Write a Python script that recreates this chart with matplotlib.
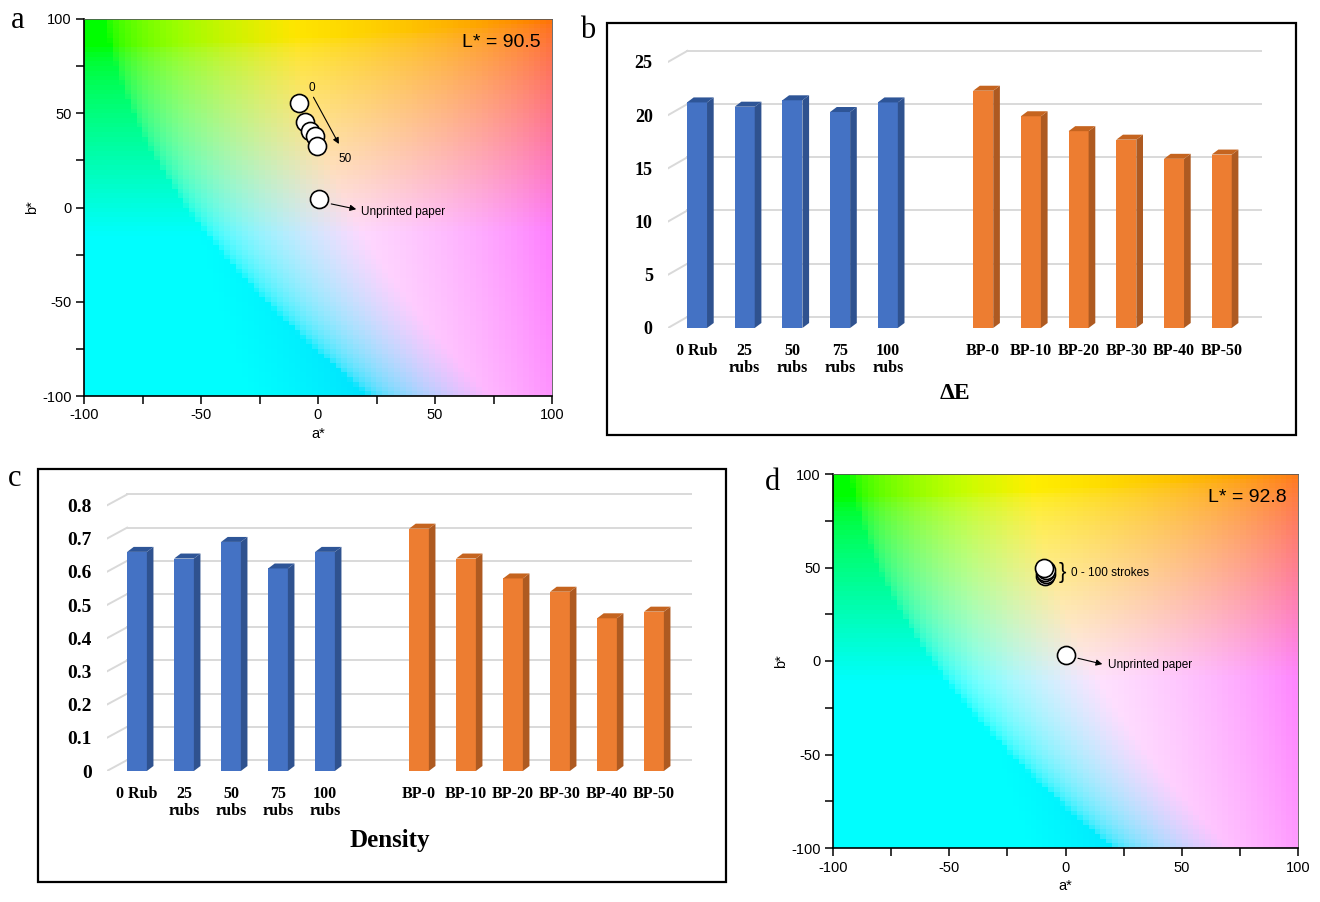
import numpy as np
import matplotlib
matplotlib.use("Agg")
import matplotlib.pyplot as plt
from matplotlib.patches import Polygon, Rectangle

plt.rcParams["axes.unicode_minus"] = False

# ---- data ----
# panel a: CIELab of rubbed samples (0 -> 50) and unprinted paper, L* = 90.5
a_rub_a = [-8.2, -5.4, -3.6, -1.3, -0.3]
b_rub_a = [55.4, 45.1, 40.4, 37.7, 32.4]
paper_a = (0.3, 4.4)
L_a = 90.5

# panel d: 0 - 100 strokes, L* = 92.8
a_rub_d = [-9.0, -8.6, -9.0, -8.6, -9.2]
b_rub_d = [45.5, 46.5, 47.5, 48.5, 49.5]
paper_d = (0.2, 3.2)
L_d = 92.8

# panels b / c: delta E and density
rub_labels = ["0 Rub", "25\nrubs", "50\nrubs", "75\nrubs", "100\nrubs"]
bp_labels = ["BP-0", "BP-10", "BP-20", "BP-30", "BP-40", "BP-50"]
dE_rub = [21.2, 20.8, 21.4, 20.3, 21.2]
dE_bp = [22.3, 19.9, 18.5, 17.7, 15.9, 16.3]
dens_rub = [0.66, 0.64, 0.69, 0.61, 0.66]
dens_bp = [0.73, 0.64, 0.58, 0.54, 0.46, 0.48]

W, H = 1320, 902
SERIF = "Liberation Serif"
SANS = "Liberation Sans"


def px_rect(x0, y0, x1, y1):
    return [x0 / W, 1 - y1 / H, (x1 - x0) / W, (y1 - y0) / H]


def lab_to_rgb(L, a, b):
    fy = (L + 16) / 116
    fx = fy + a / 500
    fz = fy - b / 200

    def finv(t):
        d = 6 / 29
        return np.where(t > d, t ** 3, 3 * d * d * (t - 4 / 29))

    X = 0.95047 * finv(fx)
    Y = 1.0 * finv(fy) * np.ones_like(a)
    Z = 1.08883 * finv(fz)
    r = 3.2406 * X - 1.5372 * Y - 0.4986 * Z
    g = -0.9689 * X + 1.8758 * Y + 0.0415 * Z
    bb = 0.0557 * X - 0.2040 * Y + 1.0570 * Z
    rgb = np.stack([r, g, bb], axis=-1)
    rgb = np.clip(rgb, 0, 1)
    rgb = np.where(rgb <= 0.0031308, 12.92 * rgb, 1.055 * rgb ** (1 / 2.4) - 0.055)
    return np.clip(rgb, 0, 1)


def lab_panel(rect, L, letter, letter_pos):
    ax = fig.add_axes(px_rect(*rect))
    c = np.arange(-98.75, 100, 2.5)
    A, B = np.meshgrid(c, c)
    ax.imshow(lab_to_rgb(L, A, B), extent=[-100, 100, -100, 100], origin="lower",
              interpolation="nearest", aspect="auto", zorder=0)
    ax.set_xlim(-100, 100)
    ax.set_ylim(-100, 100)
    ax.set_xticks([-100, -50, 0, 50, 100])
    ax.set_yticks([-100, -50, 0, 50, 100])
    ax.set_xticks(np.arange(-100, 101, 25), minor=True)
    ax.set_yticks(np.arange(-100, 101, 25), minor=True)
    ax.tick_params(which="both", direction="out", length=6, width=1.1, labelsize=10.5, pad=3)
    for lab in ax.get_xticklabels() + ax.get_yticklabels():
        lab.set_fontfamily(SANS)
    ax.set_xlabel("a*", fontfamily=SANS, fontsize=10.5, labelpad=3)
    ax.set_ylabel("b*", fontfamily=SANS, fontsize=10.5, labelpad=2)
    for s in ["left", "bottom"]:
        ax.spines[s].set_linewidth(1.2)
    for s in ["top", "right"]:
        ax.spines[s].set_linewidth(0.6)
        ax.spines[s].set_color("#555555")
    ax.text(0.975, 0.96, "L* = %.1f" % L, transform=ax.transAxes, ha="right", va="top",
            fontsize=14, fontfamily=SANS)
    fig.text(letter_pos[0] / W, 1 - letter_pos[1] / H, letter, fontsize=22,
             fontfamily=SERIF, ha="center", va="center")
    return ax


def bar_panel(rect, box, vals_rub, vals_bp, yticks, ylim, xlim, w, ddx, ddy,
              goff, gx0, gdx, title, title_y, ylab_fs, letter, letter_pos):
    fig.add_artist(Rectangle((box[0] / W, 1 - box[3] / H), (box[2] - box[0]) / W,
                             (box[3] - box[1]) / H, transform=fig.transFigure,
                             fill=False, ec="black", lw=1.6))
    ax = fig.add_axes(px_rect(*rect))
    ax.set_xlim(*xlim)
    ax.set_ylim(*ylim)
    for s in ax.spines.values():
        s.set_visible(False)
    # back-wall gridlines with perspective stubs
    for v in yticks:
        ax.plot([gx0, xlim[1]], [v + goff, v + goff], color="#d9d9d9", lw=1.4, zorder=1)
        ax.plot([gx0 - gdx, gx0], [v, v + goff], color="#d9d9d9", lw=1.4, zorder=1)
    pos = list(range(5)) + list(range(6, 12))
    vals = list(vals_rub) + list(vals_bp)
    cols = [("#4472c4", "#2f528f", "#2e5597")] * 5 + [("#ed7d31", "#ae5a21", "#c5641f")] * 6
    ax.bar(pos, vals, width=w, color=[c[0] for c in cols], zorder=3)
    for x, v, c in zip(pos, vals, cols):
        xr, xl = x + w / 2, x - w / 2
        ax.add_patch(Polygon([(xr, 0), (xr + ddx, ddy), (xr + ddx, v + ddy), (xr, v)],
                             closed=True, fc=c[1], ec="none", zorder=3))
        ax.add_patch(Polygon([(xl, v), (xr, v), (xr + ddx, v + ddy), (xl + ddx, v + ddy)],
                             closed=True, fc=c[2], ec="none", zorder=3))
    ax.set_yticks(yticks)
    ax.set_yticklabels([("%g" % t) for t in yticks], fontfamily=SERIF,
                       fontweight="bold", fontsize=ylab_fs)
    ax.set_xticks(pos)
    ax.set_xticklabels(rub_labels + bp_labels, fontfamily=SERIF, fontweight="bold",
                       fontsize=11.5, linespacing=1.1)
    ax.tick_params(axis="both", length=0)
    ax.tick_params(axis="y", pad=11)
    ax.tick_params(axis="x", pad=11)
    fig.text(title[1] / W, 1 - title_y / H, title[0], fontsize=title[2], fontfamily=SERIF,
             fontweight="bold", ha="center", va="center")
    fig.text(letter_pos[0] / W, 1 - letter_pos[1] / H, letter, fontsize=22,
             fontfamily=SERIF, ha="center", va="center")
    return ax


fig = plt.figure(figsize=(W / 100, H / 100), dpi=100)

# ---- panel a ----
ax_a = lab_panel((84, 19, 552, 396), L_a, "a", (18, 20))
ax_a.plot(a_rub_a, b_rub_a, "o", ms=13, mfc="white", mec="black", mew=1.2, zorder=4)
ax_a.plot([paper_a[0]], [paper_a[1]], "o", ms=13, mfc="white", mec="black", mew=1.2, zorder=4)
ax_a.annotate("", xy=(9.5, 32.4), xytext=(-2.5, 59.8),
              arrowprops=dict(arrowstyle="-|>", color="black", lw=0.8, mutation_scale=9))
ax_a.text(-2.5, 63.5, "0", fontsize=8.5, fontfamily=SANS, ha="center", va="center")
ax_a.text(11.5, 25.5, "50", fontsize=8.5, fontfamily=SANS, ha="center", va="center")
ax_a.text(18.5, -2.2, "Unprinted paper", fontsize=8.5, fontfamily=SANS, va="center")
ax_a.annotate("", xy=(17.5, -1.2), xytext=(4.5, 2.2),
              arrowprops=dict(arrowstyle="-|>", color="black", lw=0.8, mutation_scale=9))

# ---- panel d ----
ax_d = lab_panel((833, 474, 1298, 848), L_d, "d", (772, 482))
ax_d.plot(a_rub_d, b_rub_d, "o", ms=13, mfc="white", mec="black", mew=1.2, zorder=4)
ax_d.plot([paper_d[0]], [paper_d[1]], "o", ms=13, mfc="white", mec="black", mew=1.2, zorder=4)
ax_d.text(-3.0, 47.3, "}", fontsize=16, fontfamily=SANS, ha="left", va="center")
ax_d.text(2.5, 47.0, "0 - 100 strokes", fontsize=8.5, fontfamily=SANS, ha="left", va="center")
ax_d.annotate("", xy=(17, -2.0), xytext=(4.2, 1.8),
              arrowprops=dict(arrowstyle="-|>", color="black", lw=0.8, mutation_scale=9))
ax_d.text(18.3, -2.3, "Unprinted paper", fontsize=8.5, fontfamily=SANS, va="center")

# ---- panel b ----
bar_panel(rect=(668, 48, 1262, 328), box=(607, 23, 1296, 435),
          vals_rub=dE_rub, vals_bp=dE_bp, yticks=[0, 5, 10, 15, 20, 25],
          ylim=(0, (328 - 48) / 10.64), xlim=((668 - 697) / 47.7, (1262 - 697) / 47.7),
          w=0.42, ddx=0.14, ddy=0.47, goff=1.05, gx0=-0.2, gdx=0.41,
          title=("ΔE", 955, 17), title_y=394, ylab_fs=13, letter="b", letter_pos=(588, 30))

# ---- panel c ----
bar_panel(rect=(107, 490, 692, 771), box=(38, 469, 726, 882),
          vals_rub=dens_rub, vals_bp=dens_bp, yticks=[0, .1, .2, .3, .4, .5, .6, .7, .8],
          ylim=(0, (771 - 490) / 332), xlim=((107 - 137) / 47, (692 - 137) / 47),
          w=0.42, ddx=0.14, ddy=0.015, goff=0.033, gx0=-0.21, gdx=0.43,
          title=("Density", 390, 18), title_y=840, ylab_fs=14, letter="c", letter_pos=(15, 478))

fig.savefig("out.png", dpi=100)
